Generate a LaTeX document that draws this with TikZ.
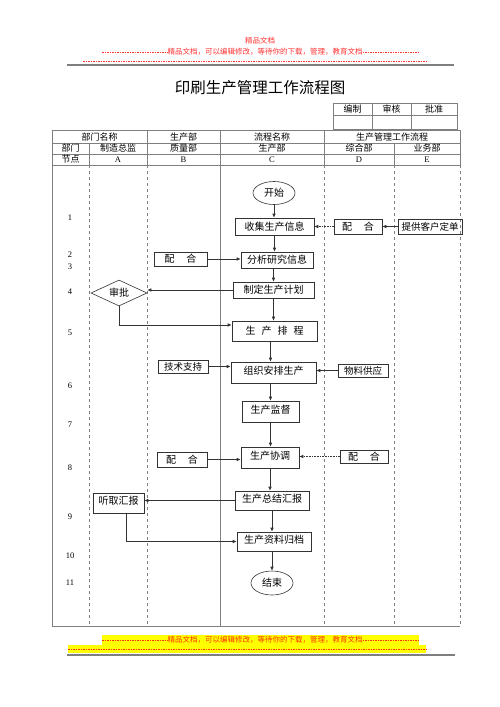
\documentclass[tikz,border=0pt]{standalone}
\usepackage{fontspec}
\setmainfont{Liberation Serif}
\newfontfamily\cjk{Noto Sans CJK SC}
\usepackage{xcolor}
\usepackage{tikz}
\usetikzlibrary{arrows.meta,calc,shapes.geometric}
\definecolor{tblgrey}{HTML}{7F7F7F}
\definecolor{lineblk}{HTML}{333333}
\definecolor{redmark}{HTML}{FF3333}
\definecolor{orangemark}{HTML}{FF3300}
\definecolor{hlyellow}{HTML}{FFFF00}

\begin{document}
\begin{tikzpicture}[x=1pt, y=-1pt,
  box/.style={rectangle, draw=lineblk, line width=0.6pt, inner sep=0pt, font=\cjk\fontsize{10}{12}\selectfont},
  side/.style={box, font=\cjk\fontsize{9.5}{11}\selectfont},
  term/.style={ellipse, draw=lineblk, line width=0.6pt, inner sep=0pt, font=\cjk\fontsize{10}{12}\selectfont},
  hi/.style={text depth=5pt},
  hd/.style={font=\cjk\fontsize{9}{10}\selectfont, inner sep=0pt},
  num/.style={font=\fontsize{8.5}{10}\selectfont, inner sep=0pt},
  flow/.style={lineblk, line width=0.6pt, -{Latex[length=4pt,width=3.5pt]}},
  dflow/.style={flow, densely dotted},
  wmark/.style={font=\cjk\fontsize{7.5}{9}\selectfont, inner sep=0pt},
  dashl/.style={line width=0.5pt, dash pattern=on 1.6pt off 0.9pt}
]
\useasboundingbox (0,0) rectangle (500,707);

% top marks
\node[wmark, text=redmark] (m1) at (260,41) {精品文档};
\node[wmark, text=redmark] (m2) at (265,52) {精品文档，可以编辑修改，等待你的下载，管理，教育文档};
\draw[redmark, dashl] (102,52) -- (m2.west);
\draw[redmark, dashl] (m2.east) -- (419,52);
\draw[redmark, dashl] (83,61) -- (428,61);
\draw[tblgrey, line width=1.2pt] (67,65) -- (454,65);

% title
\node[font=\cjk\fontsize{15.5}{18}\selectfont, inner sep=0pt] (title) at (260,88) {印刷生产管理工作流程图};

% sign-off box
\draw[tblgrey, line width=0.8pt] (333,103) rectangle (457,129);
\draw[tblgrey, line width=0.8pt] (333,115) -- (457,115);
\draw[tblgrey, line width=0.8pt] (372,103) -- (372,129);
\draw[tblgrey, line width=0.8pt] (411,103) -- (411,129);
\node[hd] (bz) at (352.5,109) {编制};
\node[hd] (sh) at (391.5,109) {审核};
\node[hd] (pz) at (434,109) {批准};

% table frame
\draw[tblgrey, line width=1pt] (460,165) -- (460,130) -- (52,130) -- (52,626) -- (460,626);
\draw[tblgrey, line width=0.8pt, dashed] (460,165) -- (460,626);
\foreach \y in {143,154,165}
  \draw[tblgrey, line width=0.8pt] (52,\y) -- (460,\y);
\foreach \x in {147,220,324}
  \draw[tblgrey, line width=0.8pt] (\x,130) -- (\x,165);
\foreach \x in {89,394}
  \draw[tblgrey, line width=0.8pt] (\x,143) -- (\x,165);
% lanes
\draw[tblgrey, line width=1pt] (220,165) -- (220,626);
\foreach \x in {89,147,324,394}
  \draw[tblgrey, line width=0.8pt, dashed] (\x,165) -- (\x,626);

% header texts
\node[hd] (h1) at (99.5,137) {部门名称};
\node[hd] (h2) at (183.5,137) {生产部};
\node[hd] (h3) at (272,137) {流程名称};
\node[hd] (h4) at (392,137) {生产管理工作流程};
\node[hd] (d0) at (70.5,148.5) {部门};
\node[hd] (d1) at (118,148.5) {制造总监};
\node[hd] (d2) at (183.5,148.5) {质量部};
\node[hd] (d3) at (272,148.5) {生产部};
\node[hd] (d4) at (359,148.5) {综合部};
\node[hd] (d5) at (427,148.5) {业务部};
\node[hd] (n0) at (70.5,159.5) {节点};
\foreach \x/\l in {118/A,183.5/B,272/C,359/D,427/E}
  \node[hd, font=\fontsize{8.5}{10}\selectfont] (col\l) at (\x,159.5) {\l};

% step numbers
\foreach \y/\n in {218/1,255/2,267/3,292/4,333/5,386/6,425/7,468/8,517/9,556/10,583/11}
  \node[num] (s\n) at (70,\y) {\n};

% column C
\node[term, minimum width=42pt, minimum height=23pt] (ks) at (274,193) {开始};
\node[box, minimum width=79pt, minimum height=17pt] (sj) at (274.5,226.5) {收集生产信息};
\node[box, minimum width=72pt, minimum height=16pt] (fx) at (277,260) {分析研究信息};
\node[box, minimum width=81pt, minimum height=16pt] (zd) at (273.5,290) {制定生产计划};
\node[box, minimum width=85pt, minimum height=20pt] (pc) at (274.5,331) {生\hspace{0.6em}产\hspace{0.6em}排\hspace{0.6em}程};
\node[box, hi, minimum width=85pt, minimum height=21pt] (zz) at (273.5,372.5) {组织安排生产};
\node[box, hi, minimum width=57pt, minimum height=21pt] (jd) at (270.5,411.5) {生产监督};
\node[box, hi, minimum width=58pt, minimum height=21pt] (xt) at (270,457.5) {生产协调};
\node[box, hi, minimum width=74pt, minimum height=19pt] (zj) at (272,500.5) {生产总结汇报};
\node[box, hi, minimum width=74pt, minimum height=19pt] (gd) at (274,541.5) {生产资料归档};
\node[term, minimum width=42pt, minimum height=24pt] (js) at (272,583) {结束};

% column A
\node[diamond, draw=lineblk, line width=0.6pt, aspect=2.2, minimum width=56pt, minimum height=26pt, inner sep=0pt, font=\cjk\fontsize{10}{12}\selectfont] (sp) at (119,293) {审批};
\node[box, hi, minimum width=51pt, minimum height=20pt] (tq) at (118.5,503) {听取汇报};

% column B
\node[box, minimum width=53pt, minimum height=14pt] (ph2) at (180.5,259) {配\hspace{1.2em}合};
\node[side, minimum width=50pt, minimum height=13pt] (jc) at (183,366.5) {技术支持};
\node[box, minimum width=50pt, minimum height=15pt] (ph3) at (182,459.5) {配\hspace{1.2em}合};

% columns D, E
\node[box, minimum width=48pt, minimum height=15pt] (ph1) at (358,226.5) {配\hspace{1.2em}合};
\node[side, minimum width=64pt, minimum height=15pt] (tg) at (430,226.5) {提供客户定单};
\node[side, minimum width=50pt, minimum height=13pt] (wl) at (363,370.5) {物料供应};
\node[box, minimum width=48pt, minimum height=13pt] (ph4) at (364,456.5) {配\hspace{1.2em}合};

% main chain
\draw[flow] (ks.south) -- (ks.south |- sj.north);
\draw[flow] (sj.south) -- (sj.south |- fx.north);
\draw[flow] (zd.south |- fx.south) -- (zd.north);
\draw[flow] (zd.south) -- (zd.south |- pc.north);
\draw[flow] ([xshift=-4pt]pc.south) -- ([xshift=-4pt]pc.south |- zz.north);
\draw[flow] ([xshift=-3pt]zz.south) -- ([xshift=-3pt]zz.south |- jd.north);
\draw[flow] (jd.south) -- (jd.south |- xt.north);
\draw[flow] (xt.south) -- (xt.south |- zj.north);
\draw[flow] (zj.south) -- (zj.south |- gd.north);
\draw[flow] (js.north |- gd.south) -- (js.north);

% side links
\draw[flow] (tg.west) -- (ph1.east);
\draw[dflow] (ph1.west) -- (ph1.west -| sj.east);
\draw[flow] (ph2.east) -- (ph2.east -| fx.west);
\draw[flow] (zd.west) -- (zd.west -| sp.east);
\draw[flow] (sp.south) |- ([yshift=6pt]pc.west);
\draw[flow] (jc.east) -- (jc.east -| zz.west);
\draw[flow] (wl.west) -- (wl.west -| zz.east);
\draw[flow] (ph3.east) -- (ph3.east -| xt.west);
\draw[dflow] (ph4.west) -- (ph4.west -| xt.east);
\draw[flow] (zj.west) -- (zj.west -| tq.east);
\draw[flow] ([xshift=8pt]tq.south) |- (gd.west);

% bottom marks
\fill[hlyellow] (102,635) rectangle (419,645);
\fill[hlyellow] (68,645) rectangle (426,653);
\node[wmark, text=orangemark] (m3) at (265,640) {精品文档，可以编辑修改，等待你的下载，管理，教育文档};
\draw[orangemark, dashl] (102,640) -- (m3.west);
\draw[orangemark, dashl] (m3.east) -- (419,640);
\draw[orangemark, dashl] (68,649) -- (426,649);
\draw[tblgrey, line width=1.2pt] (67,655) -- (455,655);
\end{tikzpicture}
\end{document}
